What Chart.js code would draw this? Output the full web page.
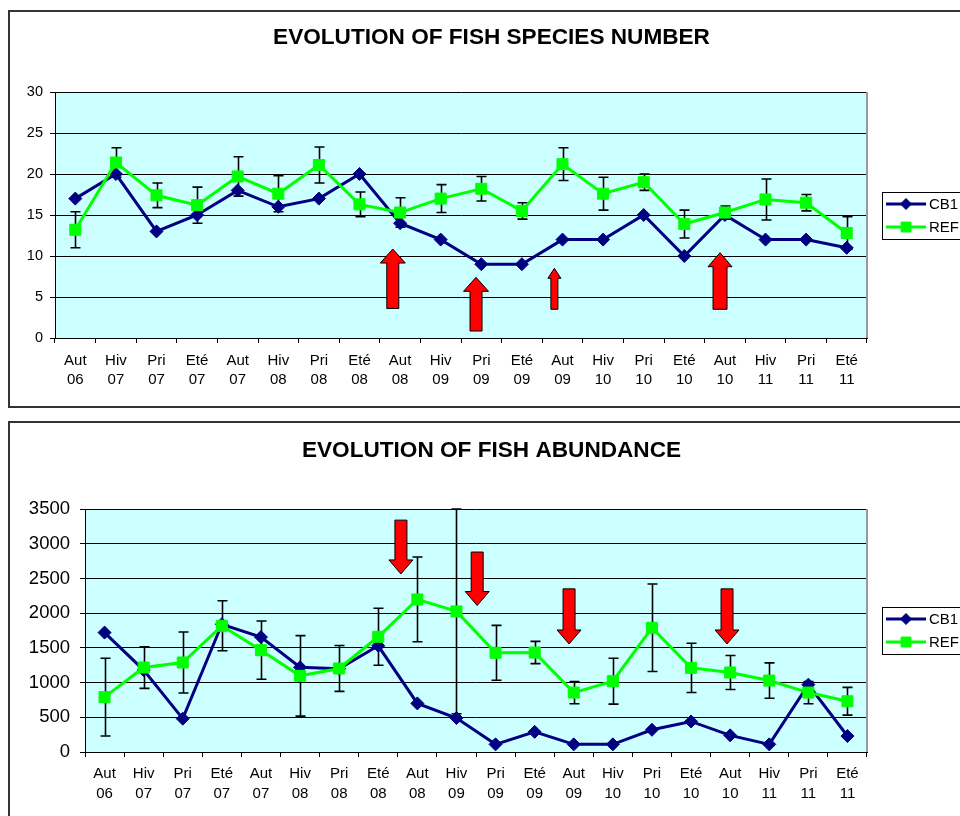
<!DOCTYPE html>
<html>
<head>
<meta charset="utf-8">
<script src="https://cdn.jsdelivr.net/npm/chart.js@4.4.0/dist/chart.umd.min.js"></script>
<style>
   html, body { margin: 0; padding: 0; overflow: hidden; background: #fff; }
   body { width: 960px; height: 816px; position: relative; }
   .box { position: absolute; left: 8px; width: 1000px; border: 2px solid #333; background: #fff; }
   #box1 { top: 10px; height: 394px; }
   #box2 { top: 421px; height: 420px; }
   canvas { display: block; }
</style>
</head>
<body>
<div class="box" id="box1"><canvas id="species" width="1000" height="394"></canvas></div>
<div class="box" id="box2"><canvas id="abundance" width="1000" height="420"></canvas></div>

<script>
// categories (season + year)
const seasons = ['Aut', 'Hiv', 'Pri', 'Eté', 'Aut', 'Hiv', 'Pri', 'Eté', 'Aut', 'Hiv',
   'Pri', 'Eté', 'Aut', 'Hiv', 'Pri', 'Eté', 'Aut', 'Hiv', 'Pri', 'Eté'];
const years = ['06', '07', '07', '07', '07', '08', '08', '08', '08', '09',
   '09', '09', '09', '10', '10', '10', '10', '11', '11', '11'];

// species number
const speciesCB1 = [17, 20, 13, 15, 18, 16, 17, 20, 14, 12, 9, 9, 12, 12, 15, 10, 15, 12, 12, 11];
const speciesREF = [13.2, 21.4, 17.4, 16.2, 19.7, 17.6, 21.1, 16.3, 15.3, 17.0,
   18.2, 15.5, 21.2, 17.6, 19.0, 13.9, 15.3, 16.9, 16.5, 12.8];
const speciesREFErr = [2.2, 1.8, 1.5, 2.2, 2.4, 2.2, 2.2, 1.5, 1.8, 1.7,
   1.5, 1.0, 2.0, 2.0, 1.0, 1.7, 0.8, 2.5, 1.0, 2.0];
const speciesTicks = [0, 5, 10, 15, 20, 25, 30];

// abundance
const abundCB1 = [1720, 1180, 480, 1840, 1655, 1220, 1200, 1530, 700, 490,
   110, 290, 110, 110, 320, 440, 240, 110, 970, 230];
const abundREF = [790, 1217, 1289, 1818, 1467, 1097, 1203, 1660, 2198, 2025,
   1429, 1433, 856, 1020, 1789, 1212, 1145, 1029, 856, 731];
const abundREFErr = [560, 300, 440, 360, 420, 580, 330, 410, 610, 1475,
   395, 160, 160, 330, 630, 355, 245, 255, 160, 200];
const abundTicks = [0, 500, 1000, 1500, 2000, 2500, 3000, 3500];

// red arrows (category position, tail value, tip value)
const speciesArrows = [
   { at: 7.82, from: 3.6, to: 10.85, shaft: 12, head: 25, len: 14 },
   { at: 9.87, from: 0.85, to: 7.4, shaft: 12, head: 25, len: 14 },
   { at: 11.8, from: 3.5, to: 8.5, shaft: 7, head: 13, len: 10 },
   { at: 15.88, from: 3.5, to: 10.4, shaft: 14, head: 24, len: 14 },
];
const abundArrows = [
   { at: 7.58, from: 3340, to: 2565, shaft: 12, head: 24, len: 14 },
   { at: 9.53, from: 2880, to: 2110, shaft: 12, head: 24, len: 14 },
   { at: 11.88, from: 2350, to: 1556, shaft: 12, head: 24, len: 14 },
   { at: 15.92, from: 2350, to: 1556, shaft: 12, head: 24, len: 14 },
];

const labels = seasons.map((s, i) => [s, years[i]]);

Chart.defaults.font.family = 'Arial, "Liberation Sans", sans-serif';
Chart.defaults.color = '#000';

// light blue plot area + grey right border
const plotBg = {
   id: 'plotBg',
   beforeDraw(chart) {
      const a = chart.chartArea;
      const ctx = chart.ctx;
      ctx.save();
      ctx.fillStyle = '#CCFFFF';
      ctx.fillRect(a.left, a.top, a.right - a.left, a.bottom - a.top);
      ctx.restore();
   },
   beforeDatasetsDraw(chart) {
      const a = chart.chartArea;
      const ctx = chart.ctx;
      ctx.save();
      ctx.strokeStyle = '#999';
      ctx.lineWidth = 2;
      ctx.beginPath();
      ctx.moveTo(a.right, a.top);
      ctx.lineTo(a.right, a.bottom);
      ctx.stroke();
      ctx.restore();
   }
};

// error bars of the REF series
const errorBars = {
   id: 'errorBars',
   beforeDatasetsDraw(chart, args, opts) {
      const idx = opts.datasetIndex;
      const meta = chart.getDatasetMeta(idx);
      const data = chart.data.datasets[idx].data;
      const y = chart.scales.y;
      const ctx = chart.ctx;
      ctx.save();
      ctx.strokeStyle = '#000';
      ctx.lineWidth = 1.6;
      meta.data.forEach((pt, i) => {
         const e = opts.values[i];
         const top = y.getPixelForValue(Math.min(data[i] + e, y.max));
         const bot = y.getPixelForValue(Math.max(data[i] - e, y.min));
         const x = Math.round(pt.x) + 0.5;
         ctx.beginPath();
         ctx.moveTo(x, top);
         ctx.lineTo(x, bot);
         ctx.moveTo(x - 5, top);
         ctx.lineTo(x + 5, top);
         ctx.moveTo(x - 5, bot);
         ctx.lineTo(x + 5, bot);
         ctx.stroke();
      });
      ctx.restore();
   }
};

// red block arrows
const arrows = {
   id: 'arrows',
   afterDatasetsDraw(chart, args, opts) {
      const ctx = chart.ctx;
      const xs = chart.scales.x;
      const ys = chart.scales.y;
      opts.items.forEach(a => {
         const x = xs.getPixelForValue(a.at);
         const tail = ys.getPixelForValue(a.from);
         const tip = ys.getPixelForValue(a.to);
         const dir = tip < tail ? 1 : -1;
         const base = tip + dir * a.len;
         ctx.save();
         ctx.beginPath();
         ctx.moveTo(x - a.shaft / 2, tail);
         ctx.lineTo(x - a.shaft / 2, base);
         ctx.lineTo(x - a.head / 2, base);
         ctx.lineTo(x, tip);
         ctx.lineTo(x + a.head / 2, base);
         ctx.lineTo(x + a.shaft / 2, base);
         ctx.lineTo(x + a.shaft / 2, tail);
         ctx.closePath();
         ctx.fillStyle = '#FF0000';
         ctx.fill();
         ctx.strokeStyle = '#000';
         ctx.lineWidth = 1;
         ctx.stroke();
         ctx.restore();
      });
   }
};

// boxed legend at the right of the plot
const boxLegend = {
   id: 'boxLegend',
   afterDraw(chart) {
      const a = chart.chartArea;
      const ctx = chart.ctx;
      const x0 = Math.round(a.right) + 15;
      const cy = (a.top + a.bottom) / 2;
      ctx.save();
      ctx.fillStyle = '#fff';
      ctx.fillRect(x0, cy - 23.5, 120, 47);
      ctx.strokeStyle = '#000';
      ctx.lineWidth = 1;
      ctx.strokeRect(x0 + 0.5, Math.round(cy - 23.5) + 0.5, 120, 47);
      chart.data.datasets.forEach((ds, i) => {
         const y = Math.round(cy - 11.5 + i * 23);
         ctx.strokeStyle = ds.borderColor;
         ctx.fillStyle = ds.borderColor;
         ctx.lineWidth = 3;
         ctx.beginPath();
         ctx.moveTo(x0 + 4, y);
         ctx.lineTo(x0 + 44, y);
         ctx.stroke();
         ctx.lineWidth = 1;
         Chart.helpers.drawPoint(ctx, {
            pointStyle: ds.pointStyle,
            radius: ds.pointStyle === 'rect' ? 7 : 5.5,
            borderWidth: 1,
            rotation: 0,
         }, x0 + 24, y);
         ctx.fillStyle = '#000';
         ctx.font = '15px Arial, "Liberation Sans", sans-serif';
         ctx.textBaseline = 'middle';
         ctx.textAlign = 'left';
         ctx.fillText(ds.label, x0 + 47, y + 1);
      });
      ctx.restore();
   }
};

function makeChart(id, s) {
   const ctx = document.getElementById(id).getContext('2d');
   return new Chart(ctx, {
      type: 'line',
      data: {
         labels: labels,
         datasets: [
            {
               label: 'CB1',
               data: s.cb1,
               borderColor: '#000080',
               backgroundColor: '#000080',
               borderWidth: 3,
               pointStyle: 'rectRot',
               pointRadius: 6.5,
               pointBorderWidth: 1,
               order: 1,
               tension: 0,
            },
            {
               label: 'REF',
               data: s.ref,
               borderColor: '#00FF00',
               backgroundColor: '#00FF00',
               borderWidth: 3,
               pointStyle: 'rect',
               pointRadius: 7.8,
               pointBorderWidth: 1,
               order: 0,
               tension: 0,
            },
         ],
      },
      options: {
         responsive: false,
         animation: false,
         devicePixelRatio: 1,
         // right padding + empty right box keep the title centred where the reference has it
         layout: { padding: { left: 0, right: 37, top: 0, bottom: 0 } },
         scales: {
            x: {
               offset: true,
               grid: {
                  offset: true,
                  drawOnChartArea: false,
                  tickLength: 5,
                  color: '#000',
               },
               border: { color: '#000', width: 1 },
               ticks: {
                  autoSkip: false,
                  maxRotation: 0,
                  padding: s.xPad,
                  font: { size: 15, lineHeight: s.xLine },
               },
               afterFit: function (scale) { scale.height = s.xHeight; },
            },
            y: {
               min: s.ticks[0],
               max: s.ticks[s.ticks.length - 1],
               afterBuildTicks: function (scale) {
                  scale.ticks = s.ticks.map(v => ({ value: v }));
               },
               grid: { color: '#000', lineWidth: 1, tickLength: 5 },
               border: { color: '#000', width: 1 },
               ticks: {
                  padding: s.yPad,
                  font: { size: s.ySize },
                  callback: function (value) { return String(value); },
               },
               afterFit: function (scale) { scale.width = s.yWidth; },
            },
            spacer: {
               type: 'linear',
               position: 'right',
               display: true,
               grid: { display: false, drawTicks: false },
               border: { display: false },
               ticks: { display: false },
               afterFit: function (scale) { scale.width = 106; },
            },
         },
         plugins: {
            legend: false,
            tooltip: { enabled: false },
            title: {
               display: true,
               text: s.title,
               font: { size: 22.6, weight: 'bold' },
               padding: { top: s.titleTop, bottom: s.titleBottom },
            },
            errorBars: { datasetIndex: 1, values: s.err },
            arrows: { items: s.arrows },
         },
      },
      plugins: [plotBg, errorBars, arrows, boxLegend],
   });
}

makeChart('species', {
   title: 'EVOLUTION OF FISH SPECIES NUMBER',
   cb1: speciesCB1,
   ref: speciesREF,
   err: speciesREFErr,
   ticks: speciesTicks,
   arrows: speciesArrows,
   titleTop: 12.5,
   titleBottom: 40.4,
   yWidth: 45,
   yPad: 7,
   ySize: 14.5,
   xHeight: 68,
   xPad: 8,
   xLine: 1.27,
});

makeChart('abundance', {
   title: 'EVOLUTION OF FISH ABUNDANCE',
   cb1: abundCB1,
   ref: abundREF,
   err: abundREFErr,
   ticks: abundTicks,
   arrows: abundArrows,
   titleTop: 14.5,
   titleBottom: 44.4,
   yWidth: 75,
   yPad: 10,
   ySize: 18.5,
   xHeight: 91,
   xPad: 7,
   xLine: 1.33,
});
</script>
</body>
</html>
